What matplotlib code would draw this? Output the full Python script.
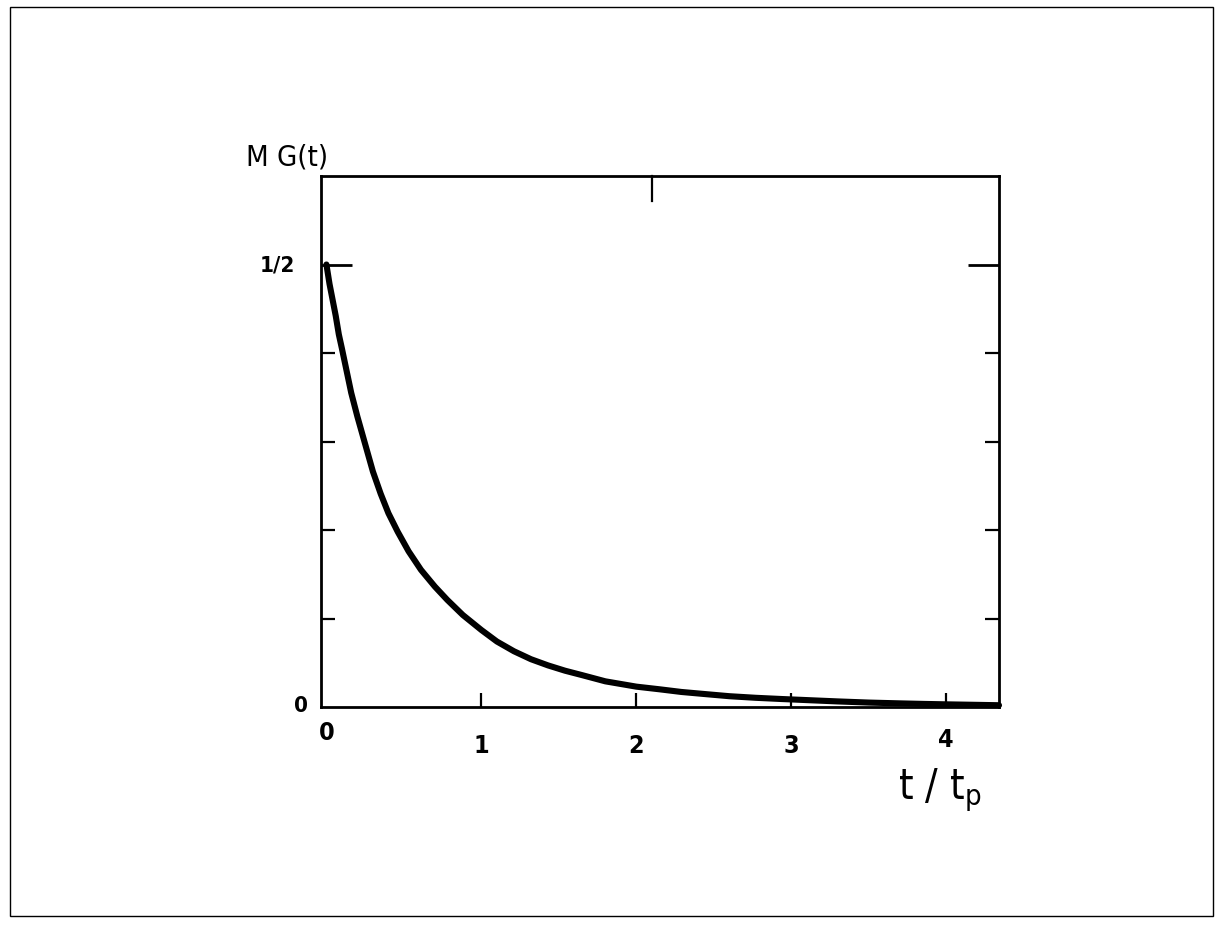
import matplotlib
matplotlib.use("Agg")
import matplotlib.pyplot as plt
from matplotlib.patches import Rectangle

# ---- data ----
t_values = [0.0, 0.02, 0.04, 0.06, 0.08, 0.1, 0.13, 0.16, 0.2, 0.25, 0.3, 0.35, 0.4,
            0.46, 0.53, 0.61, 0.7, 0.78, 0.88, 1.0, 1.1, 1.21, 1.32, 1.43, 1.54, 1.65,
            1.8, 2.0, 2.15, 2.29, 2.45, 2.6, 2.77, 2.94, 3.1, 3.3, 3.5, 3.7, 3.85, 4.0,
            4.17, 4.34]
mg_values = [0.5, 0.478, 0.46, 0.442, 0.421, 0.405, 0.38, 0.355, 0.328, 0.297, 0.266,
             0.241, 0.219, 0.198, 0.176, 0.155, 0.136, 0.121, 0.104, 0.087, 0.074, 0.063,
             0.054, 0.047, 0.041, 0.036, 0.029, 0.023, 0.020, 0.017, 0.0145, 0.0122,
             0.0104, 0.009, 0.0078, 0.0063, 0.005, 0.0041, 0.0035, 0.003, 0.0025, 0.002]
x_tick_values = [0, 1, 2, 3, 4]
x_tick_labels = ["0", "1", "2", "3", "4"]
y_minor_ticks = [0.1, 0.2, 0.3, 0.4]
y_major_ticks = [0.5]
y_label_values = [0, 0.5]
y_label_texts = ["0", "1/2"]
top_tick_values = [2.1]

plt.rcParams['font.family'] = ['DejaVu Sans']
plt.rcParams['font.stretch'] = 'condensed'

W, H = 1223, 929
fig = plt.figure(figsize=(W / 100, H / 100), dpi=100)
fig.patch.set_facecolor("white")

# outer frame
fig.patches.append(Rectangle((10 / W, 12 / H), 1203 / W, 909 / H, transform=fig.transFigure,
                             fill=False, lw=1.0, ec="black"))

L, R, T, B = 321, 999, 177, 708
ax = fig.add_axes([L / W, (H - B) / H, (R - L) / W, (B - T) / H])
ax.set_xlim(-0.035, 4.34)
ax.set_ylim(0, 0.6)
for s in ax.spines.values():
    s.set_linewidth(2.0)

ax.plot(t_values, mg_values, color="black", lw=4.4, solid_joinstyle="round",
        solid_capstyle="round", clip_on=False)

# ticks
ax.set_xticks(x_tick_values[1:])
ax.set_xticklabels([])
ax.tick_params(axis="x", which="major", direction="in", length=10, width=1.6, bottom=True, top=False)
ax.set_yticks(y_major_ticks)
ax.set_yticks(y_minor_ticks, minor=True)
ax.set_yticklabels([])
ax.tick_params(axis="y", which="major", direction="in", length=22, width=2.0, left=True, right=True)
ax.tick_params(axis="y", which="minor", direction="in", length=10, width=1.6, left=True, right=True)

# top tick
for xv in top_tick_values:
    ax.plot([xv, xv], [0.6, 0.6 - 0.028], color="black", lw=1.6, clip_on=False)

fs = 18
# x tick labels
for xv, lab in zip(x_tick_values, x_tick_labels):
    yoff = -25 if xv == 0 else (-32 if xv == 4 else -38)
    ax.annotate(lab, (xv, 0), xytext=(0, yoff), textcoords="offset pixels",
                ha="center", va="center", fontsize=fs, fontweight="bold")

# y tick labels
ax.annotate(y_label_texts[0], (0, y_label_values[0]), xycoords=("axes fraction", "data"),
            xytext=(-20, 2), textcoords="offset pixels", ha="center", va="center",
            fontsize=fs - 2, fontweight="bold")
ax.annotate(y_label_texts[1], (0, y_label_values[1]), xycoords=("axes fraction", "data"),
            xytext=(-44, 0), textcoords="offset pixels", ha="center", va="center",
            fontsize=fs - 2, fontweight="bold")

# axis titles
fig.text(287 / W, (H - 158) / H, "M G(t)", ha="center", va="center", fontsize=21)
fig.text(940 / W, (H - 790) / H, r"t / t$_\mathregular{p}$", ha="center", va="center", fontsize=30)

fig.savefig("out.png", dpi=100, facecolor="white")
